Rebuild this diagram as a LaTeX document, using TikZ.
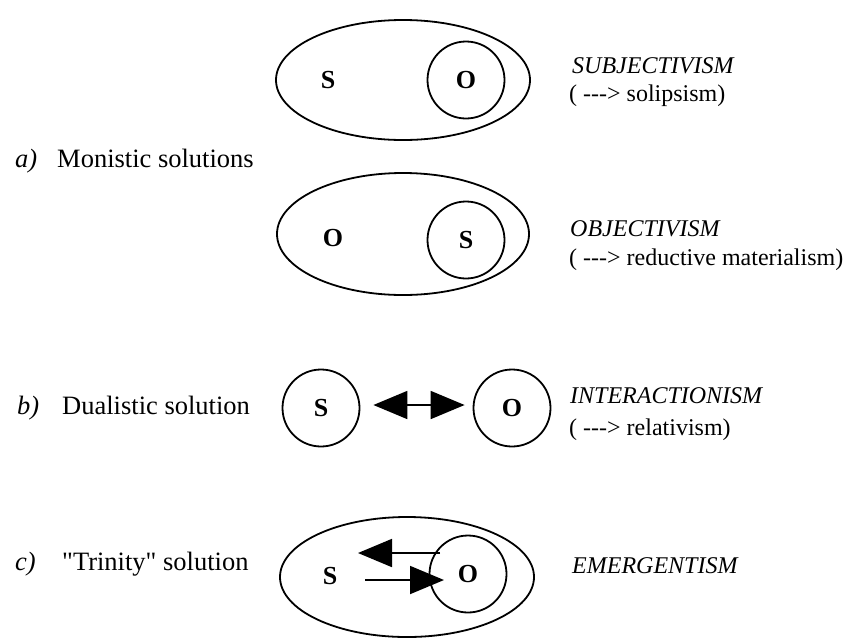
\documentclass[tikz,border=0pt]{standalone}
\usepackage{fontspec}
\setmainfont{Liberation Serif}[Ligatures=TeXOff]
\usetikzlibrary{arrows.meta,shapes.geometric}
\begin{document}
\begin{tikzpicture}[x=1pt,y=-1pt,
  every node/.style={font=\fontsize{24}{29}\selectfont},
  oval/.style={draw,line width=1.8pt,ellipse,inner sep=0pt},
  ring/.style={draw,line width=1.8pt,circle,inner sep=0pt,minimum size=77pt,font=\fontsize{26}{30}\selectfont\bfseries},
  letter/.style={font=\fontsize{26}{30}\selectfont\bfseries,inner sep=0pt},
  txt/.style={anchor=base west,inner sep=0pt},
  itxt/.style={anchor=base west,inner sep=0pt,font=\fontsize{24}{29}\selectfont\itshape},
  ltxt/.style={anchor=base west,inner sep=0pt,font=\fontsize{26.5}{30}\selectfont},
  litxt/.style={anchor=base west,inner sep=0pt,font=\fontsize{26.5}{30}\selectfont\itshape},
  bigarrow/.style={line width=1.8pt,-{Triangle[length=34pt,width=28pt]}},
]
\useasboundingbox (0,0) rectangle (853,638);
% a) subjectivism
\node[oval,minimum width=254pt,minimum height=120pt] (e1) at (403,80) {};
\node[letter] (e1s) at (328,80) {S};
\node[ring] (e1o) at (466,80) {O};
\node[itxt] (t1) at (572,73) {SUBJECTIVISM};
\node[txt] (t1b) at (569,101) {( ---> solipsism)};
% label a
\node[litxt] (la) at (15,167) {a)};
\node[ltxt] (la2) at (57,167) {Monistic solutions};
% a) objectivism
\node[oval,minimum width=252pt,minimum height=122pt] (e2) at (403,234) {};
\node[letter] (e2o) at (333,238) {O};
\node[ring] (e2s) at (466,240) {S};
\node[itxt] (t2) at (570,236) {OBJECTIVISM};
\node[txt] (t2b) at (569,265) {( ---> reductive materialism)};
% b) dualistic
\node[litxt] (lb) at (17,414) {b)};
\node[ltxt] (lb2) at (62,414) {Dualistic solution};
\node[ring] (bs) at (321,408) {S};
\node[ring] (bo) at (512,408) {O};
\draw[line width=1.8pt,{Triangle[length=34pt,width=28pt]}-{Triangle[length=34pt,width=28pt]},shorten <=13pt,shorten >=8pt]
  ([yshift=3pt]bs.east) -- ([yshift=3pt]bo.west);
\node[itxt] (t3) at (570,403) {INTERACTIONISM};
\node[txt] (t3b) at (569,435) {( ---> relativism)};
% c) trinity
\node[litxt] (lc) at (15,570) {c)};
\node[ltxt] (lc2) at (62,570) {"Trinity" solution};
\node[oval,minimum width=254pt,minimum height=120pt] (e3) at (407,577) {};
\node[letter] (e3s) at (330,576) {S};
\node[ring] (e3o) at (468,574) {O};
\coordinate (ua) at (440,553);
\coordinate (ub) at (358,553);
\coordinate (la1) at (365,580);
\coordinate (lb1) at (444,580);
\draw[bigarrow] (ua) -- (ub);
\draw[bigarrow] (la1) -- (lb1);
\node[itxt] (t4) at (572,573) {EMERGENTISM};
\end{tikzpicture}
\end{document}
